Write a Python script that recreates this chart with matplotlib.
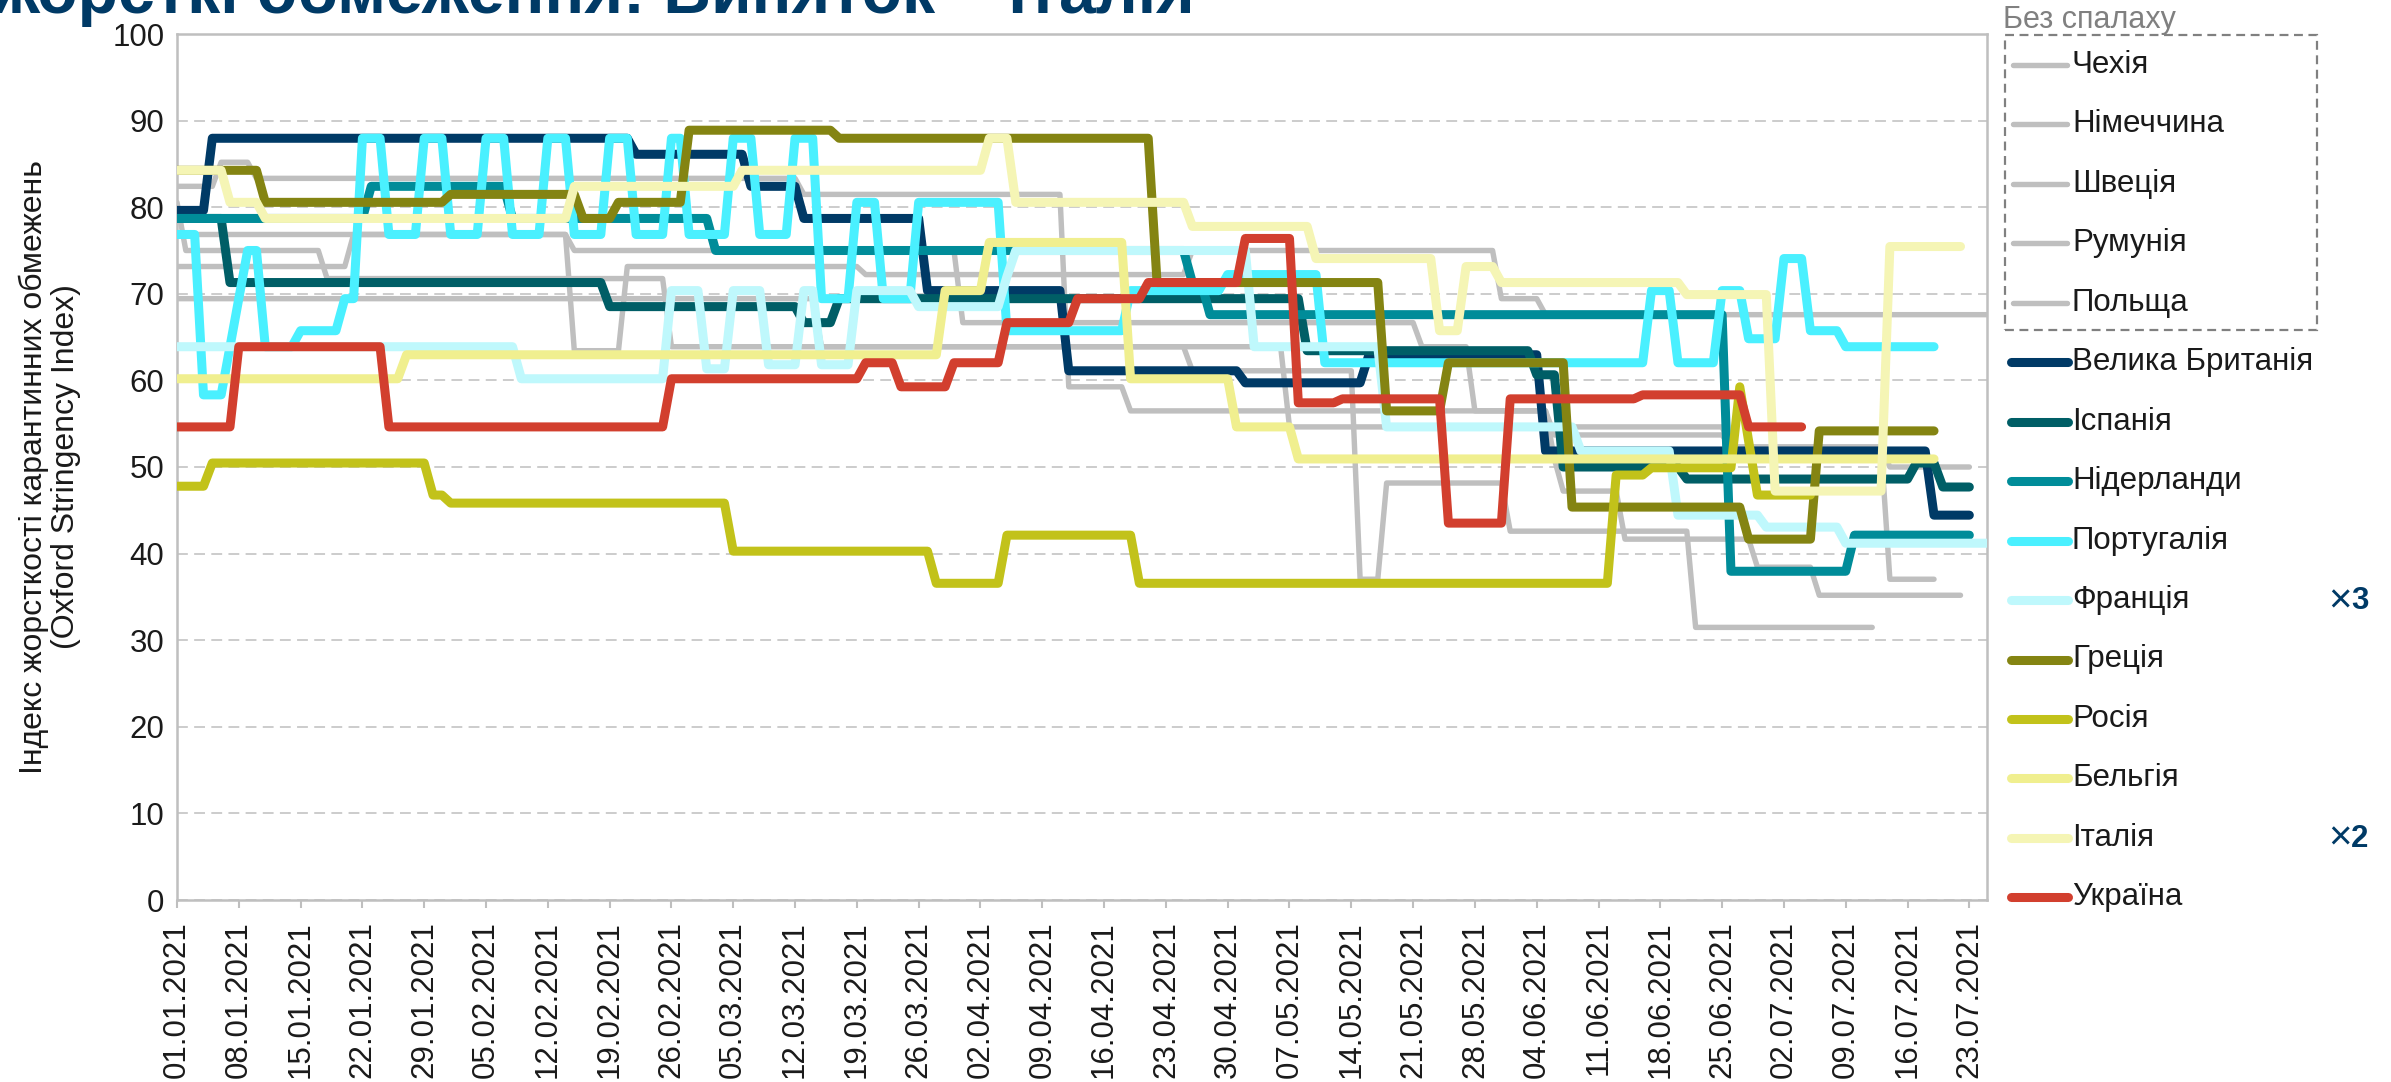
import numpy as np
import pandas as pd
import matplotlib
matplotlib.use('Agg')
import matplotlib.pyplot as plt
from matplotlib.lines import Line2D
from matplotlib.patches import Rectangle

plt.rcParams['font.family'] = ['Liberation Sans', 'DejaVu Sans']

W, H = 2391, 1082
start_date = pd.Timestamp('2021-01-01')
axis_last_day = 205

# Stringency index, stored as runs: day (from 01.01.2021) where a value starts, the value, last day with data
# "no outbreak" group (grey)
cz_start = [0, 5, 9, 71, 101, 108, 156, 176, 194]
cz_vals = [82.41, 85.19, 83.33, 81.48, 59.26, 56.48, 53.70, 52.31, 37.04]
cz_end = 199

de_start = [0, 1, 17, 56, 115, 134, 137, 151, 172]
de_vals = [80.56, 75.00, 71.76, 63.89, 61.11, 37.04, 48.15, 42.59, 31.48]
de_end = 192

se_start = [0, 20, 45, 51, 78, 115, 150, 155]
se_vals = [73.15, 76.85, 63.43, 73.15, 72.22, 75.00, 69.44, 67.59]
se_end = 205

ro_start = [0, 45, 89, 141, 147, 156, 157, 164, 179, 186]
ro_vals = [76.85, 75.00, 66.67, 63.89, 56.48, 50.93, 47.22, 41.67, 38.43, 35.19]
ro_end = 202

pl_start = [0, 73, 126, 176, 194]
pl_vals = [69.44, 63.89, 54.63, 52.31, 50.00]
pl_end = 203

# other countries
uk_start = [0, 4, 52, 65, 71, 85, 101, 121, 135, 155, 199]
uk_vals = [79.63, 87.96, 86.11, 82.41, 78.70, 70.37, 61.11, 59.72, 62.96, 51.85, 44.44]
uk_end = 203

es_start = [0, 6, 49, 71, 75, 128, 154, 157, 171, 197, 200]
es_vals = [78.70, 71.30, 68.52, 66.67, 69.44, 63.43, 60.65, 50.00, 48.61, 50.46, 47.69]
es_end = 203

nl_start = [0, 22, 38, 61, 115, 117, 176, 190]
nl_vals = [78.70, 82.41, 78.70, 75.00, 71.30, 67.59, 37.96, 42.13]
nl_end = 203

pt_start = [0, 3, 6, 7, 8, 10, 14, 19, 21, 24, 28, 31, 35, 38, 42, 45, 49, 52, 56, 58,
            63, 66, 70, 73, 77, 80, 84, 94, 108, 119, 130, 167, 170, 175, 178, 182, 185, 189]
pt_vals = [76.85, 58.33, 63.89, 69.44, 75.00, 63.89, 65.74, 69.44, 87.96, 76.85, 87.96, 76.85,
           87.96, 76.85, 87.96, 76.85, 87.96, 76.85, 87.96, 76.85, 87.96, 76.85, 87.96, 69.44,
           80.56, 69.44, 80.56, 65.74, 70.37, 72.22, 62.04, 70.37, 62.04, 70.37, 64.81, 74.07,
           65.74, 63.89]
pt_end = 199

fr_start = [0, 39, 56, 60, 63, 67, 71, 73, 77, 84, 94, 95, 122, 137, 159, 170, 180, 189]
fr_vals = [63.89, 60.19, 70.37, 61.34, 70.37, 61.81, 70.37, 61.81, 70.37, 68.52, 72.00, 75.00,
           63.89, 54.63, 51.85, 44.44, 43.06, 41.20]
fr_end = 205

gr_start = [0, 10, 31, 46, 50, 58, 75, 111, 137, 144, 158, 178, 186]
gr_vals = [84.26, 80.56, 81.48, 78.70, 80.56, 88.89, 87.96, 71.30, 56.48, 62.04, 45.37, 41.67, 54.17]
gr_end = 199

ru_start = [0, 4, 29, 31, 63, 86, 94, 109, 163, 167, 177, 178, 179]
ru_vals = [47.78, 50.46, 46.76, 45.83, 40.28, 36.57, 42.13, 36.57, 49.07, 49.91, 59.26, 53.00, 46.76]
ru_end = 185

be_start = [0, 26, 87, 92, 108, 120, 127]
be_vals = [60.19, 62.96, 70.37, 75.93, 60.19, 54.63, 50.93]
be_end = 199

it_start = [0, 6, 10, 45, 64, 92, 95, 115, 129, 143, 146, 150, 171, 181, 194]
it_vals = [84.26, 80.56, 78.70, 82.41, 84.26, 87.96, 80.56, 77.78, 74.07, 65.74, 73.15, 71.30,
           69.91, 47.22, 75.46]
it_end = 202

ua_start = [0, 7, 24, 56, 78, 82, 88, 94, 102, 110, 121, 127, 132, 144, 151, 166, 178]
ua_vals = [54.63, 63.89, 54.63, 60.19, 62.04, 59.26, 62.04, 66.67, 69.44, 71.30, 76.39, 57.41,
           57.87, 43.52, 57.87, 58.33, 54.63]
ua_end = 184

grey_names = ['Чехія', 'Німеччина', 'Швеція', 'Румунія', 'Польща']
grey_series = [(cz_start, cz_vals, cz_end), (de_start, de_vals, de_end), (se_start, se_vals, se_end),
               (ro_start, ro_vals, ro_end), (pl_start, pl_vals, pl_end)]

main_names = ['Велика Британія', 'Іспанія', 'Нідерланди', 'Португалія', 'Франція',
              'Греція', 'Росія', 'Бельгія', 'Італія', 'Україна']
main_series = [(uk_start, uk_vals, uk_end), (es_start, es_vals, es_end), (nl_start, nl_vals, nl_end),
               (pt_start, pt_vals, pt_end), (fr_start, fr_vals, fr_end), (gr_start, gr_vals, gr_end),
               (ru_start, ru_vals, ru_end), (be_start, be_vals, be_end), (it_start, it_vals, it_end),
               (ua_start, ua_vals, ua_end)]
main_colors = ['#003A66', '#005E66', '#008C99', '#4AF0FF', '#BFF8FC',
               '#848412', '#C2C21A', '#F0EF8F', '#F5F5B5', '#D23F2E']
grey_color = '#BFBFBF'

GREY_LW = 3.9
MAIN_LW = 6.5


def daily(starts, vals, end):
    days = np.arange(end + 1)
    idx = np.searchsorted(starts, days, side='right') - 1
    return start_date + pd.to_timedelta(days, unit='D'), np.asarray(vals)[idx]


fig = plt.figure(figsize=(W / 100, H / 100), dpi=100)
fig.patch.set_facecolor('white')
ax = fig.add_axes([177 / W, 1 - 900 / H, (1987 - 177) / W, (900 - 34) / H])

for s, v, e in grey_series:
    x, y = daily(s, v, e)
    ax.plot(x, y, color=grey_color, lw=GREY_LW, solid_capstyle='round', solid_joinstyle='round', zorder=2)

for (s, v, e), c in zip(main_series, main_colors):
    x, y = daily(s, v, e)
    ax.plot(x, y, color=c, lw=MAIN_LW, solid_capstyle='round', solid_joinstyle='round', zorder=3)

ax.set_ylim(0, 100)
ax.set_xlim(start_date, start_date + pd.Timedelta(days=axis_last_day))
ax.set_yticks(np.arange(0, 101, 10))
week_ticks = pd.date_range('2021-01-01', '2021-07-23', freq='7D')
ax.set_xticks(week_ticks)
ax.set_xticklabels(week_ticks.strftime('%d.%m.%Y'), rotation=90)

ax.yaxis.grid(True, linestyle=(0, (6, 3.5)), color='#C8C8C8', lw=1.3)
ax.set_axisbelow(True)
for sp in ax.spines.values():
    sp.set_color('#BFBFBF')
    sp.set_linewidth(1.8)
ax.tick_params(axis='x', length=6, width=1.5, color='#BFBFBF', labelsize=22.5, pad=9, labelcolor='#1a1a1a')
ax.tick_params(axis='y', length=0, labelsize=22.5, pad=9, labelcolor='#1a1a1a')

fig.text(50 / W, 1 - 467 / H, 'Індекс жорсткості карантинних обмежень\n(Oxford Stringency Index)',
         rotation=90, ha='center', va='center', multialignment='center', fontsize=23, color='#1a1a1a',
         linespacing=1.1)

# title, cut off by the top edge
fig.text(-0.003, 1 - 13 / H, 'жорсткі обмеження: Виняток – Італія', fontsize=47.5, fontweight='bold',
         color='#003A66', ha='left', va='baseline')

# legend drawn by hand
def fx(px):
    return px / W


def fy(py):
    return 1 - py / H


row0, step = 65, 59.45
fig.text(fx(2003), fy(28), 'Без спалаху', fontsize=22, color='#808080', ha='left', va='baseline')
fig.add_artist(Rectangle((fx(2005), fy(330)), fx(2317) - fx(2005), fy(35) - fy(330), transform=fig.transFigure,
                         fill=False, edgecolor='#808080', lw=1.6, linestyle=(0, (4, 2.5))))
for i, name in enumerate(grey_names):
    yy = fy(row0 + step * i)
    fig.add_artist(Line2D([fx(2013), fx(2067)], [yy, yy], transform=fig.transFigure, color=grey_color,
                          lw=GREY_LW, solid_capstyle='round'))
    fig.text(fx(2072), yy, name, fontsize=22.5, color='#1a1a1a', ha='left', va='center')
for j, (name, c) in enumerate(zip(main_names, main_colors)):
    yy = fy(row0 + step * (j + 5))
    fig.add_artist(Line2D([fx(2011), fx(2068)], [yy, yy], transform=fig.transFigure, color=c,
                          lw=MAIN_LW, solid_capstyle='round'))
    fig.text(fx(2072), yy, name, fontsize=22.5, color='#1a1a1a', ha='left', va='center')

for name, mult in [('Франція', '3'), ('Італія', '2')]:
    yy = fy(row0 + step * (main_names.index(name) + 5) + 1)
    fig.text(fx(2328), yy, '×', fontsize=29, color='#003A66', ha='left', va='center')
    fig.text(fx(2351), yy, mult, fontsize=22.5, fontweight='bold', color='#003A66', ha='left', va='center')

fig.savefig('out.png', dpi=100)
